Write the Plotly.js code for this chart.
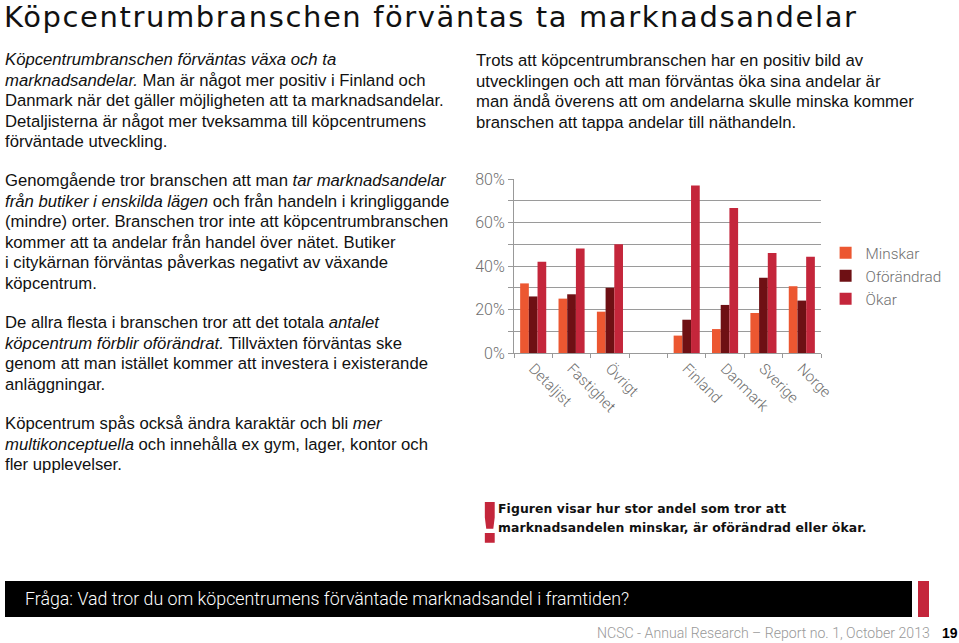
<!DOCTYPE html>
<html><head><meta charset="utf-8">
<script src="https://cdn.plot.ly/plotly-3.0.1.min.js"></script>
<style>
html,body{margin:0;padding:0;background:#fff;width:959px;height:643px;overflow:hidden;position:relative;font-family:"Liberation Sans",Arial,sans-serif;}
#chart{position:absolute;left:0;top:0;width:959px;height:643px;}
.t{position:absolute;color:#111;font-size:16.7px;line-height:20.6px;white-space:nowrap;}
#title{position:absolute;left:4px;top:0px;font-family:"DejaVu Sans",sans-serif;font-size:29px;line-height:34px;letter-spacing:1.6px;color:#111;white-space:nowrap;}
#bar{position:absolute;left:5px;top:581px;width:907px;height:36px;background:#000;}
#bar span{position:absolute;left:20px;top:7px;color:#fff;font-family:Roboto,sans-serif;font-weight:300;font-size:17.8px;white-space:nowrap;}
#redbox{position:absolute;left:918px;top:581px;width:11px;height:36px;background:#c4263b;}
#foot{position:absolute;left:597px;top:625px;color:#999;font-family:Roboto,sans-serif;font-weight:300;font-size:14.1px;white-space:nowrap;}
#pnum{position:absolute;left:942px;top:625px;color:#000;font-family:"Liberation Sans",Arial,sans-serif;font-weight:bold;font-size:14px;}
#excl{position:absolute;left:477px;top:493px;color:#c4263b;font-family:"DejaVu Sans",sans-serif;font-weight:bold;font-size:56px;line-height:60px;}
#note{position:absolute;left:498px;top:500px;color:#111;font-family:"DejaVu Sans",sans-serif;font-weight:bold;font-size:12.4px;line-height:18.5px;letter-spacing:0.1px;white-space:nowrap;}
</style></head>
<body>
<div id="chart"></div>
<div id="title">Köpcentrumbranschen förväntas ta marknadsandelar</div>
<div class="t" style="left:5px;top:50px;"><i>Köpcentrumbranschen förväntas växa och ta<br>marknadsandelar.</i> Man är något mer positiv i Finland och<br>Danmark när det gäller möjligheten att ta marknadsandelar.<br>Detaljisterna är något mer tveksamma till köpcentrumens<br>förväntade utveckling.</div>
<div class="t" style="left:476px;top:51px;">Trots att köpcentrumbranschen har en positiv bild av<br>utvecklingen och att man förväntas öka sina andelar är<br>man ändå överens att om andelarna skulle minska kommer<br>branschen att tappa andelar till näthandeln.</div>
<div class="t" style="left:5px;top:171px;">Genomgående tror branschen att man <i>tar marknadsandelar<br>från butiker i enskilda lägen</i> och från handeln i kringliggande<br>(mindre) orter. Branschen tror inte att köpcentrumbranschen<br>kommer att ta andelar från handel över nätet. Butiker<br>i citykärnan förväntas påverkas negativt av växande<br>köpcentrum.</div>
<div class="t" style="left:5px;top:313px;">De allra flesta i branschen tror att det totala <i>antalet<br>köpcentrum förblir oförändrat.</i> Tillväxten förväntas ske<br>genom att man istället kommer att investera i existerande<br>anläggningar.</div>
<div class="t" style="left:5px;top:414px;">Köpcentrum spås också ändra karaktär och bli <i>mer<br>multikonceptuella</i> och innehålla ex gym, lager, kontor och<br>fler upplevelser.</div>
<div id="excl">!</div>
<div id="note">Figuren visar hur stor andel som tror att<br>marknadsandelen minskar, är oförändrad eller ökar.</div>
<div id="bar"><span>Fråga: Vad tror du om köpcentrumens förväntade marknadsandel i framtiden?</span></div>
<div id="redbox"></div>
<div id="foot">NCSC - Annual Research – Report no. 1, October 2013</div>
<div id="pnum">19</div>
<script>
const categories = ["Detaljist", "Fastighet", "Övrigt", " ", "Finland", "Danmark", "Sverige", "Norge"];
const minskar    = [32, 25, 19, null, 8, 11, 18.4, 30.7];
const oforandrad = [26, 27, 30, null, 15.3, 22.1, 34.6, 24.1];
const okar       = [42, 48, 50, null, 77, 66.7, 46, 44.3];
const seriesNames = ["Minskar", "Oförändrad", "Ökar"];
const colors = ["#ec5731", "#6e1014", "#c4263b"];
const yTickVals = [0, 10, 20, 30, 40, 50, 60, 70, 80];
const yTickText = ["0%", "", "20%", "", "40%", "", "60%", "", "80%"];

const chartFont = {family: "Roboto, sans-serif", weight: 300, color: "#6f6f6f"};
const data = [minskar, oforandrad, okar].map((vals, i) => ({
  type: "bar", x: categories, y: vals, name: seriesNames[i],
  marker: {color: colors[i], line: {width: 0}}, hoverinfo: "none"
}));
const layout = {
  width: 959, height: 643,
  margin: {l: 514, r: 136, t: 179, b: 290, pad: 0},
  paper_bgcolor: "rgba(0,0,0,0)", plot_bgcolor: "rgba(0,0,0,0)",
  barmode: "group", bargap: 0.32, bargroupgap: 0,
  showlegend: true,
  legend: {x: 1.015, xanchor: "left", y: 0.67, yanchor: "top",
           font: Object.assign({}, chartFont, {size: 15.3}),
           itemwidth: 30, tracegroupgap: 0, bgcolor: "rgba(0,0,0,0)"},
  xaxis: {type: "category", categoryorder: "array", categoryarray: categories,
          tickangle: 45, tickson: "boundaries", ticks: "outside", ticklen: 4,
          tickcolor: "#999", showgrid: false, showline: true, linecolor: "#999",
          linewidth: 1, tickfont: Object.assign({}, chartFont, {size: 15}), fixedrange: true},
  yaxis: {range: [0, 80], tickvals: yTickVals, ticktext: yTickText,
          ticks: "outside", ticklen: 5, tickcolor: "#999", showgrid: true,
          gridcolor: "#9a9a9a", gridwidth: 1, showline: true, linecolor: "#999",
          zeroline: false, ticklabelstandoff: 0,
          tickfont: Object.assign({}, chartFont, {size: 16}), fixedrange: true}
};
Plotly.newPlot("chart", data, layout, {staticPlot: true, displayModeBar: false});
</script>
</body></html>
